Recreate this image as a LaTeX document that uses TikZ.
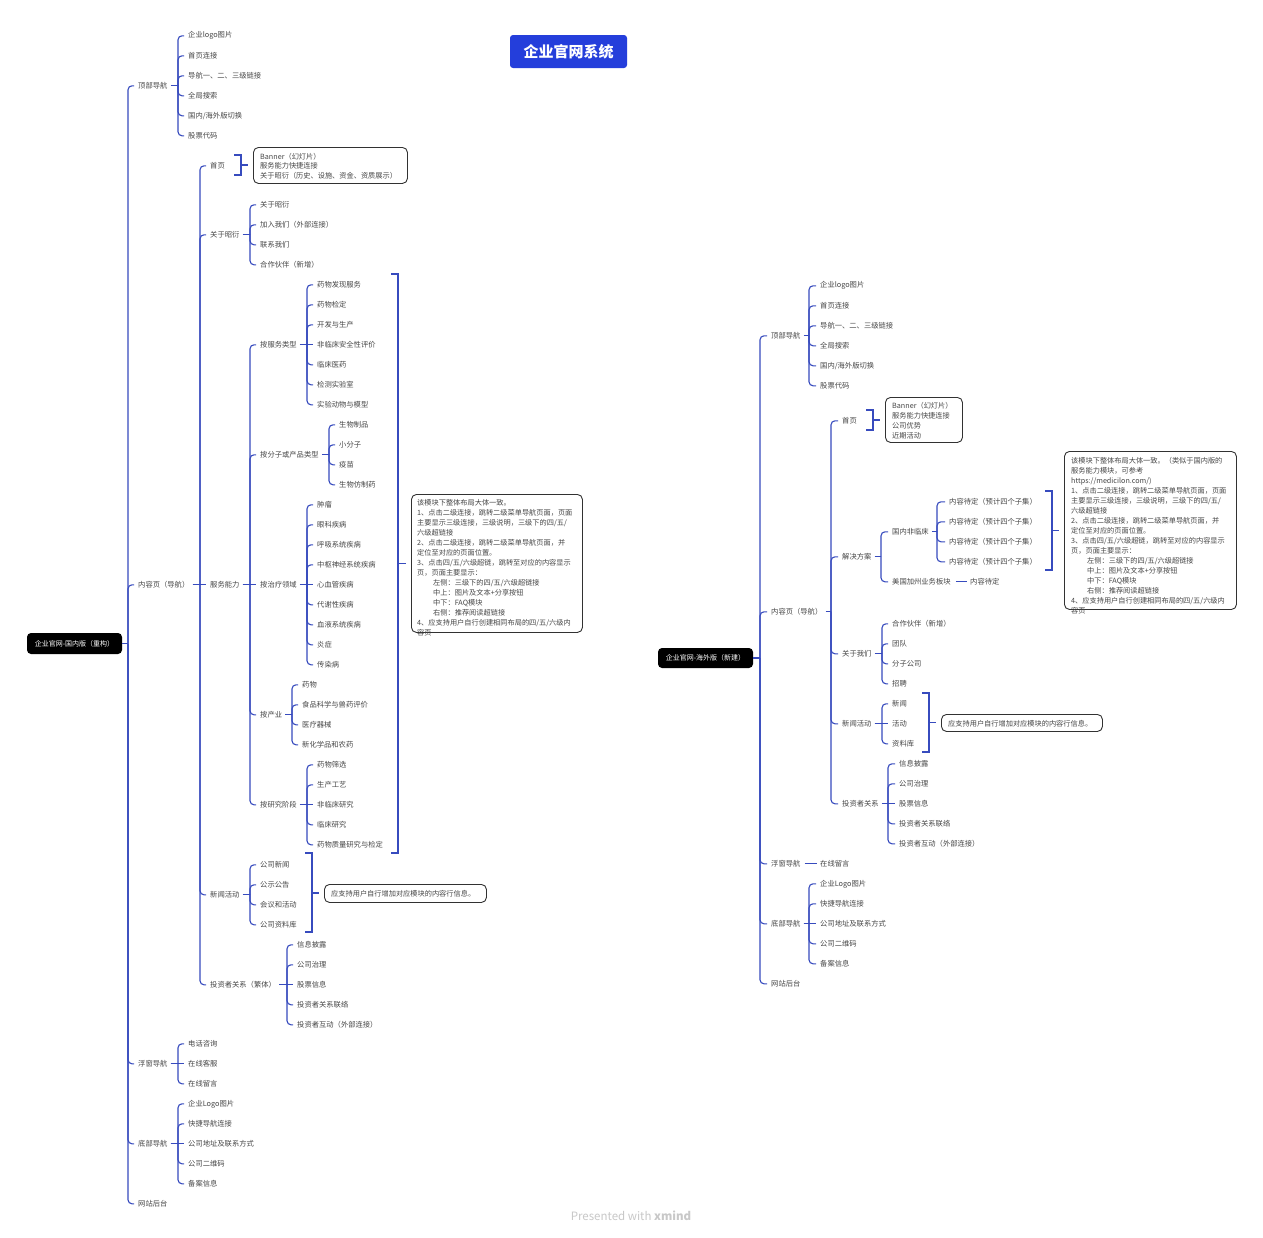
\documentclass[tikz,border=0pt]{standalone}
\usepackage{fontspec}
\setmainfont{Noto Sans CJK SC}
\usetikzlibrary{calc}
\definecolor{ln}{RGB}{55,75,190}
\definecolor{tx}{RGB}{70,70,70}
\definecolor{ttl}{RGB}{36,62,219}
\definecolor{wm}{RGB}{200,200,200}
\definecolor{nb}{RGB}{50,50,50}
\tikzset{
 conn/.style={draw=ln, line width=1.1pt},
 hook/.style={conn, rounded corners=4pt},
 t/.style={anchor=west, inner sep=0pt, yshift=-0.8pt, text=tx, font=\fontsize{7.3}{9}\selectfont},
 rootbox/.style={fill=black, rounded corners=4pt, text=white, font=\fontsize{7}{9}\selectfont, minimum width=95pt, minimum height=21pt, inner sep=0pt},
 notebox/.style={draw=nb, line width=0.9pt, fill=white, rounded corners=5pt, anchor=north west, inner sep=0pt},
 notetext/.style={anchor=north west, align=left, inner sep=0pt, text=tx, font=\fontsize{7.2}{10}\selectfont},
}
\newcommand\nd[4]{\node[t] (#1) at (#2,#3) {#4};}
\newcommand\tree[4][3]{%
  \draw[conn] ($(#2.east)+(#1,0)$) -- (#3,0 |- #2.east);
  \foreach \kid in {#4}{\draw[hook] (#3,0 |- #2.east) |- ($(\kid.west)+(-4,0)$);}%
}
\newcommand\straight[2]{\draw[conn] ($(#1.east)+(3,0)$) -- ($(#2.west)+(-4,0)$);}
\newcommand\summ[5]{%
  \draw[conn] (#1-7,#2) -- (#1,#2) -- (#1,#3) -- (#1-7,#3);
  \draw[conn] (#1,#4) -- ($(#5.west |- 0,#4)+(-5,0)$);
}
\begin{document}
\begin{tikzpicture}[x=1pt,y=-1pt]
\fill[white] (0,0) rectangle (1263,1237);
\useasboundingbox (0,0) rectangle (1263,1237);

% title
\node[fill=ttl, rounded corners=3pt, minimum width=117pt, minimum height=33pt, inner sep=0pt, text=white, font=\bfseries\fontsize{15}{18}\selectfont] (title) at (568.5,51.5) {企业官网系统};

% ================= LEFT TREE =================
\node[rootbox] (L) at (74.5,643.5) {企业官网-国内版（重构）};
\nd{La}{138}{85}{顶部导航}
\nd{La1}{188}{35}{企业logo图片}
\nd{La2}{188}{55}{首页连接}
\nd{La3}{188}{75}{导航一、二、三级链接}
\nd{La4}{188}{95}{全局搜索}
\nd{La5}{188}{115}{国内/海外版切换}
\nd{La6}{188}{135}{股票代码}
\nd{Lb}{138}{584}{内容页（导航）}
\nd{Lb1}{210}{165}{首页}
\nd{Lb2}{210}{234}{关于昭衍}
\nd{Lb2a}{260}{204}{关于昭衍}
\nd{Lb2b}{260}{224}{加入我们（外部连接）}
\nd{Lb2c}{260}{244}{联系我们}
\nd{Lb2d}{260}{264}{合作伙伴（新增）}
\nd{Lb3}{210}{584}{服务能力}
\nd{Lb3a}{260}{344}{按服务类型}
\nd{a1}{317}{284}{药物发现服务}
\nd{a2}{317}{304}{药物检定}
\nd{a3}{317}{324}{开发与生产}
\nd{a4}{317}{344}{非临床安全性评价}
\nd{a5}{317}{364}{临床医药}
\nd{a6}{317}{384}{检测实验室}
\nd{a7}{317}{404}{实验动物与模型}
\nd{Lb3b}{260}{454}{按分子或产品类型}
\nd{b1}{339}{424}{生物制品}
\nd{b2}{339}{444}{小分子}
\nd{b3}{339}{464}{疫苗}
\nd{b4}{339}{484}{生物仿制药}
\nd{Lb3c}{260}{584}{按治疗领域}
\nd{c1}{317}{504}{肿瘤}
\nd{c2}{317}{524}{眼科疾病}
\nd{c3}{317}{544}{呼吸系统疾病}
\nd{c4}{317}{564}{中枢神经系统疾病}
\nd{c5}{317}{584}{心血管疾病}
\nd{c6}{317}{604}{代谢性疾病}
\nd{c7}{317}{624}{血液系统疾病}
\nd{c8}{317}{644}{炎症}
\nd{c9}{317}{664}{传染病}
\nd{Lb3d}{260}{714}{按产业}
\nd{d1}{302}{684}{药物}
\nd{d2}{302}{704}{食品科学与兽药评价}
\nd{d3}{302}{724}{医疗器械}
\nd{d4}{302}{744}{新化学品和农药}
\nd{Lb3e}{260}{804}{按研究阶段}
\nd{e1}{317}{764}{药物筛选}
\nd{e2}{317}{784}{生产工艺}
\nd{e3}{317}{804}{非临床研究}
\nd{e4}{317}{824}{临床研究}
\nd{e5}{317}{844}{药物质量研究与检定}
\nd{Lb4}{210}{894}{新闻活动}
\nd{Lb4a}{260}{864}{公司新闻}
\nd{Lb4b}{260}{884}{公示公告}
\nd{Lb4c}{260}{904}{会议和活动}
\nd{Lb4d}{260}{924}{公司资料库}
\nd{Lb5}{210}{984}{投资者关系（繁体）}
\nd{Lb5a}{297}{944}{信息披露}
\nd{Lb5b}{297}{964}{公司治理}
\nd{Lb5c}{297}{984}{股票信息}
\nd{Lb5d}{297}{1004}{投资者关系联络}
\nd{Lb5e}{297}{1024}{投资者互动（外部连接）}
\nd{Lc}{138}{1063}{浮窗导航}
\nd{Lc1}{188}{1043}{电话咨询}
\nd{Lc2}{188}{1063}{在线客服}
\nd{Lc3}{188}{1083}{在线留言}
\nd{Ld}{138}{1143}{底部导航}
\nd{Ld1}{188}{1103}{企业Logo图片}
\nd{Ld2}{188}{1123}{快捷导航连接}
\nd{Ld3}{188}{1143}{公司地址及联系方式}
\nd{Ld4}{188}{1163}{公司二维码}
\nd{Ld5}{188}{1183}{备案信息}
\nd{Le}{138}{1203}{网站后台}

\tree[0]{L}{128}{La,Lb,Lc,Ld,Le}
\tree{La}{178}{La1,La2,La3,La4,La5,La6}
\tree{Lb}{200}{Lb1,Lb2,Lb4,Lb5}
\straight{Lb}{Lb3}
\tree{Lb2}{250}{Lb2a,Lb2b,Lb2c,Lb2d}
\tree{Lb3}{250}{Lb3a,Lb3b,Lb3d,Lb3e}
\straight{Lb3}{Lb3c}
\tree{Lb3a}{307}{a1,a2,a3,a5,a6,a7}
\straight{Lb3a}{a4}
\tree{Lb3b}{329}{b1,b2,b3,b4}
\tree{Lb3c}{307}{c1,c2,c3,c4,c6,c7,c8,c9}
\straight{Lb3c}{c5}
\tree{Lb3d}{292}{d1,d2,d3,d4}
\tree{Lb3e}{307}{e1,e2,e4,e5}
\straight{Lb3e}{e3}
\tree{Lb4}{250}{Lb4a,Lb4b,Lb4c,Lb4d}
\tree{Lb5}{287}{Lb5a,Lb5b,Lb5d,Lb5e}
\straight{Lb5}{Lb5c}
\tree{Lc}{178}{Lc1,Lc3}
\straight{Lc}{Lc2}
\tree{Ld}{178}{Ld1,Ld2,Ld4,Ld5}
\straight{Ld}{Ld3}

% left notes
\node[notebox, minimum width=154pt, minimum height=36pt] (Lb1n) at (253,147) {};
\node[notetext, font=\fontsize{7.2}{9.5}\selectfont] (Lb1nt) at (260,153) {Banner（幻灯片）\\服务能力快捷连接\\关于昭衍（历史、设施、资金、资质展示）};
\summ{241}{155}{175}{165}{Lb1n}

\node[notebox, minimum width=171pt, minimum height=138pt] (Lb3n) at (411,494) {};
\node[notetext] (Lb3nt) at (417,499) {该模块下整体布局大体一致。\\
1、点击二级连接，跳转二级菜单导航页面，页面\\
主要显示三级连接，三级说明，三级下的四/五/\\
六级超链接\\
2、点击二级连接，跳转二级菜单导航页面，并\\
定位至对应的页面位置。\\
3、点击四/五/六级超链，跳转至对应的内容显示\\
页，页面主要显示：\\
\hspace*{16pt}左侧：三级下的四/五/六级超链接\\
\hspace*{16pt}中上：图片及文本+分享按钮\\
\hspace*{16pt}中下：FAQ模块\\
\hspace*{16pt}右侧：推荐阅读超链接\\
4、应支持用户自行创建相同布局的四/五/六级内\\
容页};
\summ{398}{274}{853}{563.5}{Lb3n}

\node[notebox, minimum width=162pt, minimum height=18pt] (Lb4n) at (324,884) {};
\node[t, font=\fontsize{7.2}{9}\selectfont] (Lb4nt) at (331,893) {应支持用户自行增加对应模块的内容行信息。};
\summ{312}{853}{932}{893}{Lb4n}

% ================= RIGHT TREE =================
\node[rootbox, minimum height=20pt] (R) at (705.5,658) {企业官网-海外版（新建）};
\nd{Ra}{771}{335}{顶部导航}
\nd{Ra1}{820}{285}{企业logo图片}
\nd{Ra2}{820}{305}{首页连接}
\nd{Ra3}{820}{325}{导航一、二、三级链接}
\nd{Ra4}{820}{345}{全局搜索}
\nd{Ra5}{820}{365}{国内/海外版切换}
\nd{Ra6}{820}{385}{股票代码}
\nd{Rb}{771}{611}{内容页（导航）}
\nd{Rb1}{842}{420}{首页}
\nd{Rb2}{842}{556}{解决方案}
\nd{Rb2a}{892}{531}{国内非临床}
\nd{Rb2a1}{949}{501}{内容待定（预计四个子集）}
\nd{Rb2a2}{949}{521}{内容待定（预计四个子集）}
\nd{Rb2a3}{949}{541}{内容待定（预计四个子集）}
\nd{Rb2a4}{949}{561}{内容待定（预计四个子集）}
\nd{Rb2b}{892}{581}{美国加州业务板块}
\nd{Rb2b1}{970}{581}{内容待定}
\nd{Rb3}{842}{653}{关于我们}
\nd{Rb3a}{892}{623}{合作伙伴（新增）}
\nd{Rb3b}{892}{643}{团队}
\nd{Rb3c}{892}{663}{分子公司}
\nd{Rb3d}{892}{683}{招聘}
\nd{Rb4}{842}{723}{新闻活动}
\nd{Rb4a}{892}{703}{新闻}
\nd{Rb4b}{892}{723}{活动}
\nd{Rb4c}{892}{743}{资料库}
\nd{Rb5}{842}{803}{投资者关系}
\nd{Rb5a}{899}{763}{信息披露}
\nd{Rb5b}{899}{783}{公司治理}
\nd{Rb5c}{899}{803}{股票信息}
\nd{Rb5d}{899}{823}{投资者关系联络}
\nd{Rb5e}{899}{843}{投资者互动（外部连接）}
\nd{Rc}{771}{863}{浮窗导航}
\nd{Rc1}{820}{863}{在线留言}
\nd{Rd}{771}{923}{底部导航}
\nd{Rd1}{820}{883}{企业Logo图片}
\nd{Rd2}{820}{903}{快捷导航连接}
\nd{Rd3}{820}{923}{公司地址及联系方式}
\nd{Rd4}{820}{943}{公司二维码}
\nd{Rd5}{820}{963}{备案信息}
\nd{Re}{771}{983}{网站后台}

\tree[0]{R}{760}{Ra,Rb,Rc,Rd,Re}
\tree{Ra}{809}{Ra1,Ra2,Ra3,Ra4,Ra5,Ra6}
\tree{Rb}{831}{Rb1,Rb2,Rb3,Rb4,Rb5}
\tree{Rb2}{881}{Rb2a,Rb2b}
\tree{Rb2a}{937}{Rb2a1,Rb2a2,Rb2a3,Rb2a4}
\draw[conn] ($(Rb2b.east)+(5,0)$) -- ($(Rb2b1.west)+(-3,0)$);
\tree{Rb3}{882}{Rb3a,Rb3b,Rb3c,Rb3d}
\tree{Rb4}{882}{Rb4a,Rb4c}
\straight{Rb4}{Rb4b}
\tree{Rb5}{888}{Rb5a,Rb5b,Rb5d,Rb5e}
\straight{Rb5}{Rb5c}
\draw[conn] ($(Rc.east)+(4,0)$) -- ($(Rc1.west)+(-3,0)$);
\tree{Rd}{809}{Rd1,Rd2,Rd4,Rd5}
\straight{Rd}{Rd3}

% right notes
\node[notebox, minimum width=77pt, minimum height=45pt] (Rb1n) at (885,397) {};
\node[notetext] (Rb1nt) at (892,402.5) {Banner（幻灯片）\\服务能力快捷连接\\公司优势\\近期活动};
\summ{873}{410}{430}{420}{Rb1n}

\node[notebox, minimum width=172pt, minimum height=158pt] (Rb2n) at (1064,451) {};
\node[notetext] (Rb2nt) at (1071,457) {该模块下整体布局大体一致。（类似于国内版的\\
服务能力模块，可参考\\
https://medicilon.com/)\\
1、点击二级连接，跳转二级菜单导航页面，页面\\
主要显示三级连接，三级说明，三级下的四/五/\\
六级超链接\\
2、点击二级连接，跳转二级菜单导航页面，并\\
定位至对应的页面位置。\\
3、点击四/五/六级超链，跳转至对应的内容显示\\
页，页面主要显示：\\
\hspace*{16pt}左侧：三级下的四/五/六级超链接\\
\hspace*{16pt}中上：图片及文本+分享按钮\\
\hspace*{16pt}中下：FAQ模块\\
\hspace*{16pt}右侧：推荐阅读超链接\\
4、应支持用户自行创建相同布局的四/五/六级内\\
容页};
\summ{1052}{491}{570}{530.5}{Rb2n}

\node[notebox, minimum width=161pt, minimum height=17pt] (Rb4n) at (941,714) {};
\node[t, font=\fontsize{7.2}{9}\selectfont] (Rb4nt) at (948,722.5) {应支持用户自行增加对应模块的内容行信息。};
\summ{929}{693}{752}{722.5}{Rb4n}

% watermark
\node[text=wm, inner sep=0pt, font=\fontsize{11.5}{13}\selectfont] (wmk) at (631,1216) {Presented with \textbf{xmind}};
\end{tikzpicture}
\end{document}
